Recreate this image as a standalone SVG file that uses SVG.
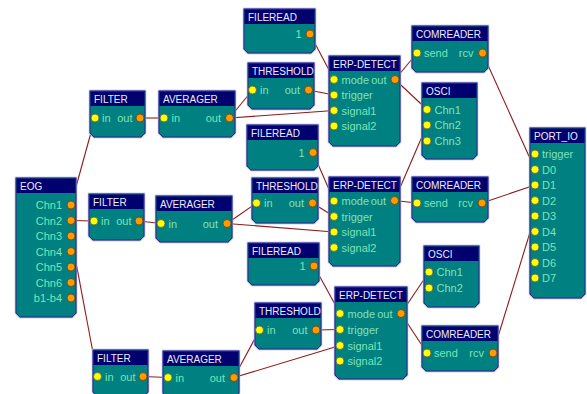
<svg xmlns="http://www.w3.org/2000/svg" width="587" height="394" viewBox="0 0 587 394">
  <style>
    .halo { fill: none; stroke: #a8a8dc; stroke-width: 2.4; }
    .body { fill: #008080; stroke: #28288c; stroke-width: 1; }
    .bar { fill: #00006e; }
    .ttl { font-family: "Liberation Sans", Arial, sans-serif; font-size: 10px; fill: #ececff; }
    .lbl { font-family: "Liberation Sans", Arial, sans-serif; font-size: 11px; fill: #7fe3b6; }
    .end { text-anchor: end; }
    .pin { fill: #ffff00; stroke: #5a5a40; stroke-width: 0.8; }
    .pout { fill: #ff9a00; stroke: #6a4010; stroke-width: 0.8; }
    .wire { stroke: #8e1a1a; stroke-width: 1.1; fill: none; }
  </style>
  <rect width="587" height="394" fill="#ffffff"/>

  <g id="connectors">
    <line class="wire" x1="71" y1="205" x2="95" y2="118"/>
    <line class="wire" x1="71" y1="220.5" x2="94" y2="221"/>
    <line class="wire" x1="71" y1="236" x2="97.5" y2="376.5"/>
    <line class="wire" x1="140" y1="118" x2="164" y2="118"/>
    <line class="wire" x1="139" y1="221" x2="161" y2="223.5"/>
    <line class="wire" x1="143" y1="376.5" x2="168" y2="377.5"/>
    <line class="wire" x1="229.5" y1="118" x2="252.5" y2="90"/>
    <line class="wire" x1="229.5" y1="118" x2="334" y2="110.5"/>
    <line class="wire" x1="308.5" y1="90" x2="334" y2="95"/>
    <line class="wire" x1="310" y1="34" x2="334" y2="79.5"/>
    <line class="wire" x1="395" y1="79.5" x2="417" y2="53"/>
    <line class="wire" x1="395" y1="79.5" x2="427" y2="109.5"/>
    <line class="wire" x1="482.5" y1="53" x2="535" y2="169.5"/>
    <line class="wire" x1="227" y1="223.5" x2="256.5" y2="203"/>
    <line class="wire" x1="227" y1="223.5" x2="334" y2="232"/>
    <line class="wire" x1="312.5" y1="203" x2="334" y2="216.5"/>
    <line class="wire" x1="313" y1="152.5" x2="334" y2="201"/>
    <line class="wire" x1="394.5" y1="200.5" x2="417" y2="203"/>
    <line class="wire" x1="394.5" y1="200.5" x2="427" y2="125"/>
    <line class="wire" x1="482" y1="203" x2="535" y2="185"/>
    <line class="wire" x1="234" y1="377.5" x2="259.5" y2="330"/>
    <line class="wire" x1="234" y1="377.5" x2="340" y2="345.5"/>
    <line class="wire" x1="316" y1="330" x2="340" y2="329.5"/>
    <line class="wire" x1="314" y1="266" x2="340" y2="313.5"/>
    <line class="wire" x1="401" y1="313.5" x2="429" y2="272"/>
    <line class="wire" x1="401" y1="313.5" x2="427" y2="353"/>
    <line class="wire" x1="493" y1="353" x2="535" y2="216"/>
  </g>

  <!-- EOG source -->
  <g id="eog">
    <path class="halo" d="M16,178 H76 V313 L72,317 H20 L16,313 Z"/>
    <path class="body" d="M16,178 H76 V313 L72,317 H20 L16,313 Z"/>
    <rect class="bar" x="16.5" y="178.5" width="59" height="14.5"/>
    <text class="ttl" x="20" y="190">EOG</text>
    <text class="lbl end" x="62" y="209">Chn1</text>
    <text class="lbl end" x="62" y="224.5">Chn2</text>
    <text class="lbl end" x="62" y="240">Chn3</text>
    <text class="lbl end" x="62" y="255.5">Chn4</text>
    <text class="lbl end" x="62" y="271">Chn5</text>
    <text class="lbl end" x="62" y="286.5">Chn6</text>
    <text class="lbl end" x="62" y="302">b1-b4</text>
    <circle class="pout" cx="71" cy="205" r="4"/>
    <circle class="pout" cx="71" cy="220.5" r="4"/>
    <circle class="pout" cx="71" cy="236" r="4"/>
    <circle class="pout" cx="71" cy="251.5" r="4"/>
    <circle class="pout" cx="71" cy="267" r="4"/>
    <circle class="pout" cx="71" cy="282.5" r="4"/>
    <circle class="pout" cx="71" cy="298" r="4"/>
  </g>

  <!-- filters -->
  <g id="filter1">
    <path class="halo" d="M90,91 H145 V133 L141,137 H94 L90,133 Z"/>
    <path class="body" d="M90,91 H145 V133 L141,137 H94 L90,133 Z"/>
    <rect class="bar" x="90.5" y="91.5" width="54" height="14.5"/>
    <text class="ttl" x="94" y="103">FILTER</text>
    <text class="lbl" x="102" y="122">in</text>
    <text class="lbl end" x="132.5" y="122">out</text>
    <circle class="pin" cx="95" cy="118" r="4"/>
    <circle class="pout" cx="140" cy="118" r="4"/>
  </g>
  <g id="filter2">
    <path class="halo" d="M89,194 H144 V236 L140,240 H93 L89,236 Z"/>
    <path class="body" d="M89,194 H144 V236 L140,240 H93 L89,236 Z"/>
    <rect class="bar" x="89.5" y="194.5" width="54" height="14.5"/>
    <text class="ttl" x="93" y="206">FILTER</text>
    <text class="lbl" x="101" y="225">in</text>
    <text class="lbl end" x="131.5" y="225">out</text>
    <circle class="pin" cx="94" cy="221" r="4"/>
    <circle class="pout" cx="139" cy="221" r="4"/>
  </g>
  <g id="filter3">
    <path class="halo" d="M93,350 H148 V392 L144,396 H97 L93,392 Z"/>
    <path class="body" d="M93,350 H148 V392 L144,396 H97 L93,392 Z"/>
    <rect class="bar" x="93.5" y="350.5" width="54" height="14.5"/>
    <text class="ttl" x="97" y="362">FILTER</text>
    <text class="lbl" x="105" y="380.5">in</text>
    <text class="lbl end" x="135.5" y="380.5">out</text>
    <circle class="pin" cx="97.5" cy="376.5" r="4"/>
    <circle class="pout" cx="143" cy="376.5" r="4"/>
  </g>

  <!-- averagers -->
  <g id="averager1">
    <path class="halo" d="M159,91 H235 V133 L231,137 H163 L159,133 Z"/>
    <path class="body" d="M159,91 H235 V133 L231,137 H163 L159,133 Z"/>
    <rect class="bar" x="159.5" y="91.5" width="75" height="14.5"/>
    <text class="ttl" x="163" y="103">AVERAGER</text>
    <text class="lbl" x="171.5" y="122">in</text>
    <text class="lbl end" x="221" y="122">out</text>
    <circle class="pin" cx="164" cy="118" r="4"/>
    <circle class="pout" cx="229.5" cy="118" r="4"/>
  </g>
  <g id="averager2">
    <path class="halo" d="M156,196 H232 V238 L228,242 H160 L156,238 Z"/>
    <path class="body" d="M156,196 H232 V238 L228,242 H160 L156,238 Z"/>
    <rect class="bar" x="156.5" y="196.5" width="75" height="14.5"/>
    <text class="ttl" x="160" y="208">AVERAGER</text>
    <text class="lbl" x="168.5" y="227.5">in</text>
    <text class="lbl end" x="218" y="227.5">out</text>
    <circle class="pin" cx="161" cy="223.5" r="4"/>
    <circle class="pout" cx="227" cy="223.5" r="4"/>
  </g>
  <g id="averager3">
    <path class="halo" d="M163,351 H239 V393 L235,397 H167 L163,393 Z"/>
    <path class="body" d="M163,351 H239 V393 L235,397 H167 L163,393 Z"/>
    <rect class="bar" x="163.5" y="351.5" width="75" height="14.5"/>
    <text class="ttl" x="167" y="363">AVERAGER</text>
    <text class="lbl" x="175.5" y="381.5">in</text>
    <text class="lbl end" x="225" y="381.5">out</text>
    <circle class="pin" cx="168" cy="377.5" r="4"/>
    <circle class="pout" cx="234" cy="377.5" r="4"/>
  </g>

  <!-- file readers -->
  <g id="fileread1">
    <path class="halo" d="M244,9 H315 V49 L311,53 H248 L244,49 Z"/>
    <path class="body" d="M244,9 H315 V49 L311,53 H248 L244,49 Z"/>
    <rect class="bar" x="244.5" y="9.5" width="70" height="14.5"/>
    <text class="ttl" x="248" y="21">FILEREAD</text>
    <text class="lbl end" x="301.5" y="38">1</text>
    <circle class="pout" cx="310" cy="34" r="4"/>
  </g>
  <g id="fileread2">
    <path class="halo" d="M247,125 H318 V166 L314,170 H251 L247,166 Z"/>
    <path class="body" d="M247,125 H318 V166 L314,170 H251 L247,166 Z"/>
    <rect class="bar" x="247.5" y="125.5" width="70" height="14.5"/>
    <text class="ttl" x="251" y="137">FILEREAD</text>
    <text class="lbl end" x="304.5" y="156.5">1</text>
    <circle class="pout" cx="313" cy="152.5" r="4"/>
  </g>
  <g id="fileread3">
    <path class="halo" d="M248,243 H319 V281 L315,285 H252 L248,281 Z"/>
    <path class="body" d="M248,243 H319 V281 L315,285 H252 L248,281 Z"/>
    <rect class="bar" x="248.5" y="243.5" width="70" height="14.5"/>
    <text class="ttl" x="252" y="255">FILEREAD</text>
    <text class="lbl end" x="305.5" y="270">1</text>
    <circle class="pout" cx="314" cy="266" r="4"/>
  </g>

  <!-- thresholds -->
  <g id="threshold1">
    <path class="halo" d="M248,63 H314 V105 L310,109 H252 L248,105 Z"/>
    <path class="body" d="M248,63 H314 V105 L310,109 H252 L248,105 Z"/>
    <rect class="bar" x="248.5" y="63.5" width="65" height="14.5"/>
    <text class="ttl" x="252" y="75">THRESHOLD</text>
    <text class="lbl" x="260" y="94">in</text>
    <text class="lbl end" x="300" y="94">out</text>
    <circle class="pin" cx="252.5" cy="90" r="4"/>
    <circle class="pout" cx="308.5" cy="90" r="4"/>
  </g>
  <g id="threshold2">
    <path class="halo" d="M252,178 H318 V219 L314,223 H256 L252,219 Z"/>
    <path class="body" d="M252,178 H318 V219 L314,223 H256 L252,219 Z"/>
    <rect class="bar" x="252.5" y="178.5" width="65" height="14.5"/>
    <text class="ttl" x="256" y="190">THRESHOLD</text>
    <text class="lbl" x="264" y="207">in</text>
    <text class="lbl end" x="304" y="207">out</text>
    <circle class="pin" cx="256.5" cy="203" r="4"/>
    <circle class="pout" cx="312.5" cy="203" r="4"/>
  </g>
  <g id="threshold3">
    <path class="halo" d="M255,303 H321 V345 L317,349 H259 L255,345 Z"/>
    <path class="body" d="M255,303 H321 V345 L317,349 H259 L255,345 Z"/>
    <rect class="bar" x="255.5" y="303.5" width="65" height="14.5"/>
    <text class="ttl" x="259" y="315">THRESHOLD</text>
    <text class="lbl" x="267" y="334">in</text>
    <text class="lbl end" x="307.5" y="334">out</text>
    <circle class="pin" cx="259.5" cy="330" r="4"/>
    <circle class="pout" cx="316" cy="330" r="4"/>
  </g>

  <!-- ERP detectors -->
  <g id="erp1">
    <path class="halo" d="M329,56 H400 V142 L396,146 H333 L329,142 Z"/>
    <path class="body" d="M329,56 H400 V142 L396,146 H333 L329,142 Z"/>
    <rect class="bar" x="329.5" y="56.5" width="70" height="14.5"/>
    <text class="ttl" x="333" y="68">ERP-DETECT</text>
    <text class="lbl" x="341.5" y="83.5">mode</text>
    <text class="lbl end" x="386.5" y="83.5">out</text>
    <text class="lbl" x="341.5" y="99">trigger</text>
    <text class="lbl" x="341.5" y="114.5">signal1</text>
    <text class="lbl" x="341.5" y="130">signal2</text>
    <circle class="pin" cx="334" cy="79.5" r="4"/>
    <circle class="pin" cx="334" cy="95" r="4"/>
    <circle class="pin" cx="334" cy="110.5" r="4"/>
    <circle class="pin" cx="334" cy="126" r="4"/>
    <circle class="pout" cx="395" cy="79.5" r="4"/>
  </g>
  <g id="erp2">
    <path class="halo" d="M329,177 H400 V262 L396,266 H333 L329,262 Z"/>
    <path class="body" d="M329,177 H400 V262 L396,266 H333 L329,262 Z"/>
    <rect class="bar" x="329.5" y="177.5" width="70" height="14.5"/>
    <text class="ttl" x="333" y="189">ERP-DETECT</text>
    <text class="lbl" x="341.5" y="205">mode</text>
    <text class="lbl end" x="386" y="205">out</text>
    <text class="lbl" x="341.5" y="220.5">trigger</text>
    <text class="lbl" x="341.5" y="236">signal1</text>
    <text class="lbl" x="341.5" y="251.5">signal2</text>
    <circle class="pin" cx="334" cy="201" r="4"/>
    <circle class="pin" cx="334" cy="216.5" r="4"/>
    <circle class="pin" cx="334" cy="232" r="4"/>
    <circle class="pin" cx="334" cy="247.5" r="4"/>
    <circle class="pout" cx="394.5" cy="200.5" r="4"/>
  </g>
  <g id="erp3">
    <path class="halo" d="M335,287 H407 V375 L403,379 H339 L335,375 Z"/>
    <path class="body" d="M335,287 H407 V375 L403,379 H339 L335,375 Z"/>
    <rect class="bar" x="335.5" y="287.5" width="71" height="14.5"/>
    <text class="ttl" x="339" y="299">ERP-DETECT</text>
    <text class="lbl" x="347.5" y="317.5">mode</text>
    <text class="lbl end" x="392.5" y="317.5">out</text>
    <text class="lbl" x="347.5" y="333.5">trigger</text>
    <text class="lbl" x="347.5" y="349.5">signal1</text>
    <text class="lbl" x="347.5" y="365">signal2</text>
    <circle class="pin" cx="340" cy="313.5" r="4"/>
    <circle class="pin" cx="340" cy="329.5" r="4"/>
    <circle class="pin" cx="340" cy="345.5" r="4"/>
    <circle class="pin" cx="340" cy="361" r="4"/>
    <circle class="pout" cx="401" cy="313.5" r="4"/>
  </g>

  <!-- com readers -->
  <g id="comreader1">
    <path class="halo" d="M412,26 H488 V68 L484,72 H416 L412,68 Z"/>
    <path class="body" d="M412,26 H488 V68 L484,72 H416 L412,68 Z"/>
    <rect class="bar" x="412.5" y="26.5" width="75" height="14.5"/>
    <text class="ttl" x="416" y="38">COMREADER</text>
    <text class="lbl" x="424" y="57">send</text>
    <text class="lbl end" x="473.5" y="57">rcv</text>
    <circle class="pin" cx="417" cy="53" r="4"/>
    <circle class="pout" cx="482.5" cy="53" r="4"/>
  </g>
  <g id="comreader2">
    <path class="halo" d="M412,177 H488 V218 L484,222 H416 L412,218 Z"/>
    <path class="body" d="M412,177 H488 V218 L484,222 H416 L412,218 Z"/>
    <rect class="bar" x="412.5" y="177.5" width="75" height="14.5"/>
    <text class="ttl" x="416" y="189">COMREADER</text>
    <text class="lbl" x="424" y="207">send</text>
    <text class="lbl end" x="473" y="207">rcv</text>
    <circle class="pin" cx="417" cy="203" r="4"/>
    <circle class="pout" cx="482" cy="203" r="4"/>
  </g>
  <g id="comreader3">
    <path class="halo" d="M422,326 H498 V367 L494,371 H426 L422,367 Z"/>
    <path class="body" d="M422,326 H498 V367 L494,371 H426 L422,367 Z"/>
    <rect class="bar" x="422.5" y="326.5" width="75" height="14.5"/>
    <text class="ttl" x="426" y="338">COMREADER</text>
    <text class="lbl" x="434" y="357">send</text>
    <text class="lbl end" x="484" y="357">rcv</text>
    <circle class="pin" cx="427" cy="353" r="4"/>
    <circle class="pout" cx="493" cy="353" r="4"/>
  </g>

  <!-- oscilloscopes -->
  <g id="osci1">
    <path class="halo" d="M422,83 H477 V155 L473,159 H426 L422,155 Z"/>
    <path class="body" d="M422,83 H477 V155 L473,159 H426 L422,155 Z"/>
    <rect class="bar" x="422.5" y="83.5" width="54" height="14.5"/>
    <text class="ttl" x="426" y="95">OSCI</text>
    <text class="lbl" x="434.5" y="113.5">Chn1</text>
    <text class="lbl" x="434.5" y="129">Chn2</text>
    <text class="lbl" x="434.5" y="145">Chn3</text>
    <circle class="pin" cx="427" cy="109.5" r="4"/>
    <circle class="pin" cx="427" cy="125" r="4"/>
    <circle class="pin" cx="427" cy="141" r="4"/>
  </g>
  <g id="osci2">
    <path class="halo" d="M424,246 H479 V303 L475,307 H428 L424,303 Z"/>
    <path class="body" d="M424,246 H479 V303 L475,307 H428 L424,303 Z"/>
    <rect class="bar" x="424.5" y="246.5" width="54" height="14.5"/>
    <text class="ttl" x="428" y="258">OSCI</text>
    <text class="lbl" x="436.5" y="276">Chn1</text>
    <text class="lbl" x="436.5" y="292">Chn2</text>
    <circle class="pin" cx="429" cy="272" r="4"/>
    <circle class="pin" cx="429" cy="288" r="4"/>
  </g>

  <!-- output port -->
  <g id="port-io">
    <path class="halo" d="M530,128 H585 V294 L581,298 H534 L530,294 Z"/>
    <path class="body" d="M530,128 H585 V294 L581,298 H534 L530,294 Z"/>
    <rect class="bar" x="530.5" y="128.5" width="54" height="14.5"/>
    <text class="ttl" x="534" y="140">PORT_IO</text>
    <text class="lbl" x="542" y="158">trigger</text>
    <text class="lbl" x="542" y="173.5">D0</text>
    <text class="lbl" x="542" y="189">D1</text>
    <text class="lbl" x="542" y="204.5">D2</text>
    <text class="lbl" x="542" y="220">D3</text>
    <text class="lbl" x="542" y="235.5">D4</text>
    <text class="lbl" x="542" y="251">D5</text>
    <text class="lbl" x="542" y="266.5">D6</text>
    <text class="lbl" x="542" y="282">D7</text>
    <circle class="pin" cx="535" cy="154" r="4"/>
    <circle class="pin" cx="535" cy="169.5" r="4"/>
    <circle class="pin" cx="535" cy="185" r="4"/>
    <circle class="pin" cx="535" cy="200.5" r="4"/>
    <circle class="pin" cx="535" cy="216" r="4"/>
    <circle class="pin" cx="535" cy="231.5" r="4"/>
    <circle class="pin" cx="535" cy="247" r="4"/>
    <circle class="pin" cx="535" cy="262.5" r="4"/>
    <circle class="pin" cx="535" cy="278" r="4"/>
  </g>
</svg>
